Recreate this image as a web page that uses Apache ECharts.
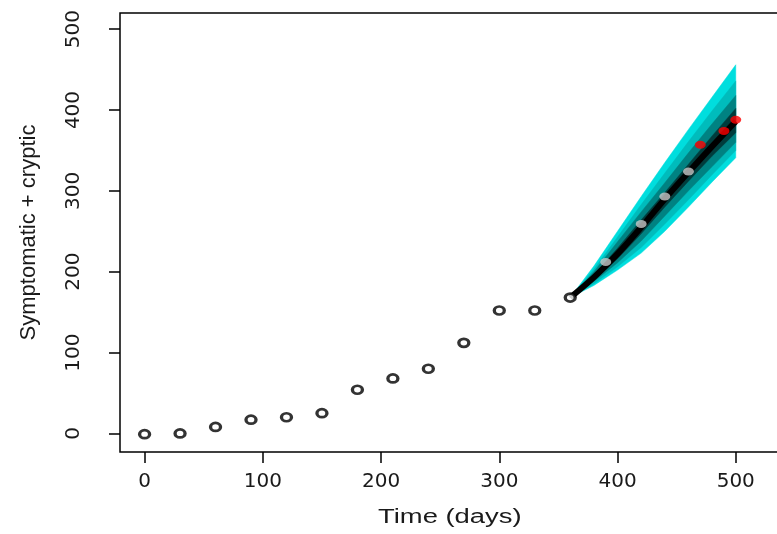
<!DOCTYPE html>
<html lang="en">
<head>
<meta charset="UTF-8">
<title>Symptomatic + cryptic forecast</title>
<script src="https://cdn.jsdelivr.net/npm/echarts@6/dist/echarts.min.js"></script>
<style>
  html, body { margin: 0; padding: 0; background: #fff; }
  #main { width: 777px; height: 534px; }
</style>
</head>
<body>
<div id="main"></div>
<script type="text/javascript">
    // observed counts (open circles)
    var obsDays = [0, 30, 60, 90, 120, 150, 180, 210, 240, 270, 300, 330, 360];
    var obsValues = [-1, 0, 8, 17, 20, 25, 54, 68, 80, 112, 152, 152, 168];

    // later points, grey and red
    var greyDays = [390, 420, 440, 460];
    var greyValues = [212, 259, 293, 324];
    var redDays = [470, 490, 500];
    var redValues = [357, 374, 388];

    // forecast fan
    var fanDays = [360, 380, 400, 420, 440, 460, 480, 500];
    var fanUpper = [168, 207, 250, 293, 335, 376, 416, 456];
    var fanUpper75 = [168, 203, 243, 283, 322, 361, 399, 436];
    var fanUpper50 = [168, 200, 237, 274, 310, 347, 383, 418];
    var fanUpper25 = [168, 196, 229, 264, 298, 333, 368, 402];
    var fanMedian = [168, 193, 222, 255, 290, 323, 355, 386];
    var fanLower25 = [168, 190, 216, 247, 280, 312, 343, 372];
    var fanLower50 = [168, 188, 211, 238, 269, 300, 330, 360];
    var fanLower75 = [168, 185, 206, 230, 259, 289, 320, 350];
    var fanLower = [168, 183, 202, 223, 250, 280, 311, 341];

    var xTicks = [0, 100, 200, 300, 400, 500];
    var yTicks = [0, 100, 200, 300, 400, 500];

    var bands = [
        {up: fanUpper, lo: fanLower, color: '#00dede'},
        {up: fanUpper75, lo: fanLower75, color: '#00bcbc'},
        {up: fanUpper50, lo: fanLower50, color: '#008282'},
        {up: fanUpper25, lo: fanLower25, color: '#003c3c'}
    ];

    function pairs(xs, ys) {
        var out = [];
        for (var i = 0; i < xs.length; i++) out.push([xs[i], ys[i]]);
        return out;
    }

    var myChart = echarts.init(document.getElementById('main'));
    var font = 'Liberation Sans, Arial, sans-serif';
    var tickFont = 'DejaVu Sans, sans-serif';

    var option = {
        animation: false,
        backgroundColor: '#fff',
        grid: {
            show: true,
            left: 120,
            top: 13,
            width: 664,
            height: 439,
            borderColor: '#000',
            borderWidth: 1.5,
            outerBoundsMode: 'none',
            containLabel: false
        },
        graphic: [{
            // x title, stretched like the source image
            type: 'text',
            left: 378,
            top: 507,
            scaleX: 1.37,
            style: {
                text: 'Time (days)',
                fontSize: 20,
                fontFamily: font,
                fill: '#1a1a1a'
            }
        }],
        xAxis: {
            type: 'value',
            min: -20.8,
            max: 540.8,
            splitLine: {show: false},
            axisLine: {show: false, onZero: false},
            axisTick: {
                show: true,
                customValues: xTicks,
                length: 11,
                lineStyle: {color: '#000', width: 1.5}
            },
            axisLabel: {
                customValues: xTicks,
                margin: 20,
                fontSize: 20,
                color: '#1a1a1a',
                fontFamily: tickFont
            }
        },
        yAxis: {
            type: 'value',
            min: -23,
            max: 520,
            name: 'Symptomatic + cryptic',
            nameLocation: 'middle',
            nameGap: 80,
            nameTextStyle: {fontSize: 22, color: '#1a1a1a', fontFamily: font},
            splitLine: {show: false},
            axisLine: {show: false, onZero: false},
            axisTick: {
                show: true,
                customValues: yTicks,
                length: 11,
                lineStyle: {color: '#000', width: 1.5}
            },
            axisLabel: {
                customValues: yTicks,
                rotate: 90,
                margin: 36,
                fontSize: 20,
                color: '#1a1a1a',
                fontFamily: tickFont
            }
        },
        series: [{
            type: 'custom',
            z: 1,
            clip: false,
            silent: true,
            data: bands.map(function (b, i) { return [fanDays[0], fanMedian[0], i]; }),
            renderItem: function (params, api) {
                var b = bands[api.value(2)];
                var pts = [];
                for (var i = 0; i < fanDays.length; i++) pts.push(api.coord([fanDays[i], b.up[i]]));
                for (var j = fanDays.length - 1; j >= 0; j--) pts.push(api.coord([fanDays[j], b.lo[j]]));
                return {
                    type: 'polygon',
                    shape: {points: pts},
                    style: {fill: b.color, stroke: b.color, lineWidth: 0.5}
                };
            }
        }, {
            type: 'line',
            z: 2,
            silent: true,
            data: pairs(fanDays, fanMedian),
            smooth: 0.3,
            symbol: 'none',
            lineStyle: {color: '#000', width: 6}
        }, {
            type: 'scatter',
            z: 3,
            data: pairs(greyDays, greyValues),
            symbol: 'circle',
            symbolSize: [11, 8],
            itemStyle: {color: '#c8c8c8'}
        }, {
            type: 'scatter',
            z: 3,
            data: pairs(redDays, redValues),
            symbol: 'circle',
            symbolSize: [11, 8],
            itemStyle: {color: '#ff0000'}
        }, {
            type: 'scatter',
            z: 4,
            data: pairs(obsDays, obsValues),
            symbol: 'circle',
            symbolSize: [10, 8],
            itemStyle: {color: '#fff', borderColor: '#000', borderWidth: 3}
        }]
    };
    myChart.setOption(option);
</script>
</body>
</html>
